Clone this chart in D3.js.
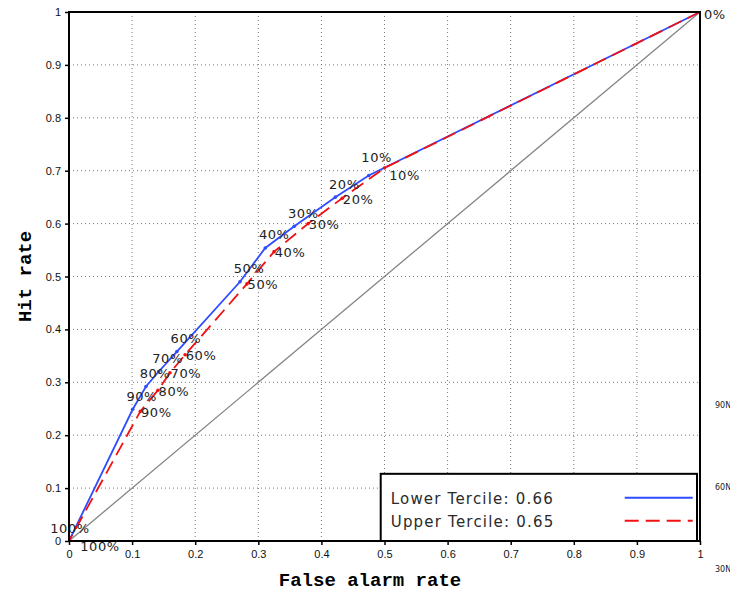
<!DOCTYPE html>
<html>
<head>
<meta charset="utf-8">
<script src="https://cdn.jsdelivr.net/npm/d3@7"></script>
<style>
  body { margin: 0; background: #fff; }
  svg { display: block; }
</style>
</head>
<body>
<div id="roc"></div>
<script>
// threshold labels along each curve, from 0% at (1,1) down to 100% at (0,0)
const thresholds = ['0%', '10%', '20%', '30%', '40%', '50%', '60%', '70%', '80%', '90%', '100%'];

const lowerFar = [1, 0.475, 0.422, 0.357, 0.311, 0.271, 0.171, 0.142, 0.122, 0.101, 0];
const lowerHit = [1, 0.691, 0.650, 0.595, 0.554, 0.490, 0.358, 0.320, 0.292, 0.249, 0];

const upperFar = [1, 0.500, 0.433, 0.379, 0.325, 0.282, 0.184, 0.160, 0.141, 0.113, 0];
const upperHit = [1, 0.705, 0.648, 0.600, 0.547, 0.486, 0.352, 0.318, 0.285, 0.245, 0];

const seriesNames = ['Lower Tercile: 0.66', 'Upper Tercile: 0.65'];
const axisTicks = [0, 0.1, 0.2, 0.3, 0.4, 0.5, 0.6, 0.7, 0.8, 0.9, 1];
const sideLabels = ['90N', '60N', '30N'];

const margin = { top: 12, right: 30, bottom: 51, left: 69 };
const width = 730 - margin.left - margin.right;
const height = 592 - margin.top - margin.bottom;

const svg = d3.select("#roc").append("svg")
    .attr("width", 730)
    .attr("height", 592)
  .append("g")
    .attr("transform", "translate(" + margin.left + "," + margin.top + ")");

const x = d3.scaleLinear().domain([0, 1]).range([0, width]);
const y = d3.scaleLinear().domain([0, 1]).range([height, 0]);

// dotted grid
const inner = axisTicks.slice(1, -1);
svg.selectAll(".vgrid")
    .data(inner)
  .enter().append("line")
    .attr("x1", d => x(d)).attr("x2", d => x(d))
    .attr("y1", 0).attr("y2", height)
    .style("stroke", "#777")
    .style("stroke-dasharray", "1,3");
svg.selectAll(".hgrid")
    .data(inner)
  .enter().append("line")
    .attr("y1", d => y(d)).attr("y2", d => y(d))
    .attr("x1", 0).attr("x2", width)
    .style("stroke", "#777")
    .style("stroke-dasharray", "1,3");

// no-skill diagonal
svg.append("line")
    .attr("x1", x(0)).attr("y1", y(0))
    .attr("x2", x(1)).attr("y2", y(1))
    .style("stroke", "#858585")
    .style("stroke-width", 1.3);

// axes
const fmt = d => d === 0 || d === 1 ? String(d) : d.toFixed(1);
const xAxis = svg.append("g")
    .attr("transform", "translate(0," + height + ")")
    .call(d3.axisBottom(x).tickValues(axisTicks).tickFormat(fmt).tickSize(4).tickSizeOuter(0));
const yAxis = svg.append("g")
    .call(d3.axisLeft(y).tickValues(axisTicks).tickFormat(fmt).tickSize(4).tickSizeOuter(0));
[xAxis, yAxis].forEach(a => {
    a.select(".domain").remove();
    a.selectAll("line").style("stroke", "#000").style("stroke-width", 1.5);
    a.selectAll("text")
        .style("font-family", "Liberation Sans, Arial, sans-serif")
        .style("font-size", "11px")
        .style("fill", "#111");
});
xAxis.selectAll("text").attr("dy", "0.9em");
yAxis.selectAll("text").attr("dx", "-1px");

// curves
const lowerData = thresholds.map((t, i) => ({ label: t, far: lowerFar[i], hit: lowerHit[i] }));
const upperData = thresholds.map((t, i) => ({ label: t, far: upperFar[i], hit: upperHit[i] }));

const line = d3.line()
    .x(d => x(d.far))
    .y(d => y(d.hit));

svg.append("path")
    .datum(lowerData)
    .attr("d", line)
    .style("fill", "none")
    .style("stroke", "#2f4dff")
    .style("stroke-width", 1.8);

svg.append("path")
    .datum(upperData)
    .attr("d", line)
    .style("fill", "none")
    .style("stroke", "#f21010")
    .style("stroke-width", 1.8)
    .style("stroke-dasharray", "14,7");

// vertex dots
[[lowerData, "#2f4dff"], [upperData, "#f21010"]].forEach(([data, col]) => {
    svg.selectAll(null)
        .data(data.slice(1, -1))
      .enter().append("circle")
        .attr("cx", d => x(d.far))
        .attr("cy", d => y(d.hit))
        .attr("r", 1.8)
        .style("fill", col);
});

// threshold labels (lower: up-left of point, upper: down-right)
function labelPos(d, upper) {
    const px = x(d.far), py = y(d.hit);
    if (d.label === '0%') return [px + 4, py + 2, "start"];
    if (d.label === '100%') return upper ? [px + 31, py + 5, "middle"] : [px + 1, py - 13, "middle"];
    if (d.label === '10%') return upper ? [px + 20, py + 7, "middle"] : [px + 8, py - 18, "middle"];
    return upper ? [px + 16, py + 1, "middle"] : [px + 9, py - 13, "middle"];
}
[[lowerData, false], [upperData, true]].forEach(([data, upper]) => {
    svg.selectAll(null)
        .data(upper ? data : data.slice(1))
      .enter().append("text")
        .text(d => d.label)
        .attr("x", d => labelPos(d, upper)[0])
        .attr("y", d => labelPos(d, upper)[1])
        .attr("dy", "0.35em")
        .style("text-anchor", d => labelPos(d, upper)[2])
        .style("font-family", "DejaVu Sans, sans-serif")
        .style("font-size", "13px")
        .style("letter-spacing", "0.6px")
        .style("fill", "#222");
});

// legend box
const legend = svg.append("g")
    .attr("transform", "translate(" + x(0.494) + "," + y(0.127) + ")");
const legendW = x(1) - x(0.494) - 3;
const legendH = y(0) - y(0.127);
legend.append("rect")
    .attr("width", legendW)
    .attr("height", legendH)
    .style("fill", "#fff")
    .style("stroke", "#000")
    .style("stroke-width", 2);
seriesNames.forEach((name, i) => {
    legend.append("text")
        .text(name)
        .attr("x", 10)
        .attr("y", 25 + i * 23)
        .attr("dy", "0.35em")
        .style("font-family", "DejaVu Sans, sans-serif")
        .style("font-size", "15px")
        .style("letter-spacing", "1.2px")
        .style("fill", "#2a2a2a");
    legend.append("line")
        .attr("x1", 244).attr("x2", 312)
        .attr("y1", 24 + i * 23).attr("y2", 24 + i * 23)
        .style("stroke", i === 0 ? "#2f4dff" : "#f21010")
        .style("stroke-width", 2)
        .style("stroke-dasharray", i === 0 ? null : "14,7");
});

// frame
svg.append("rect")
    .attr("width", width)
    .attr("height", height)
    .style("fill", "none")
    .style("stroke", "#000")
    .style("stroke-width", 2);

// axis titles
svg.append("text")
    .text("False alarm rate")
    .attr("x", 301)
    .attr("y", height + 45)
    .style("text-anchor", "middle")
    .style("font-family", "Liberation Mono, monospace")
    .style("font-weight", "bold")
    .style("font-size", "19px");
svg.append("text")
    .text("Hit rate")
    .attr("transform", "translate(-38," + (height / 2) + ") rotate(-90)")
    .style("text-anchor", "middle")
    .style("font-family", "Liberation Mono, monospace")
    .style("font-weight", "bold")
    .style("font-size", "19px");

// stray map latitude labels at right edge
svg.selectAll(null)
    .data(sideLabels)
  .enter().append("text")
    .text(d => d)
    .attr("x", width + 15)
    .attr("y", (d, i) => y(0.256) + i * 82)
    .attr("dy", "0.35em")
    .style("font-family", "DejaVu Sans, sans-serif")
    .style("font-size", "8px")
    .style("fill", "#222");
</script>
</body>
</html>
